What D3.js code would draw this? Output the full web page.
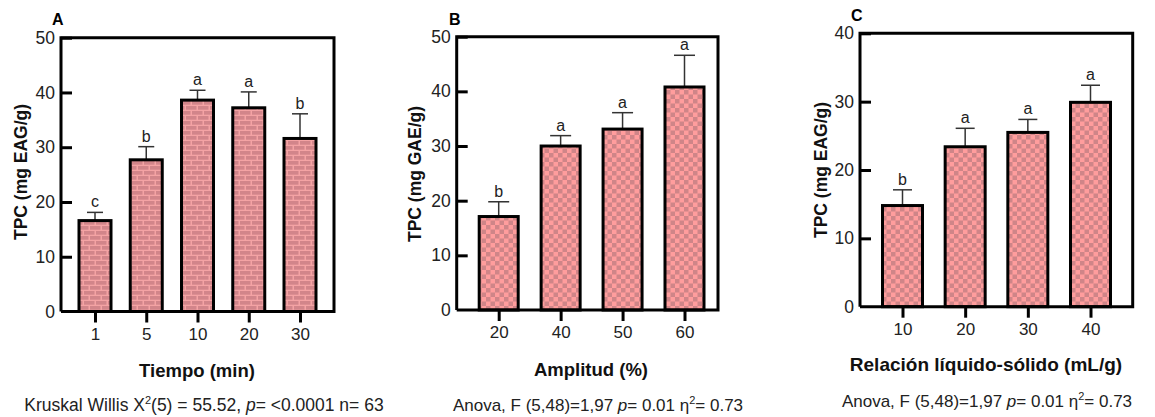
<!DOCTYPE html>
<html><head><meta charset="utf-8">
<script src="https://cdn.jsdelivr.net/npm/d3@7"></script>
<style>body{margin:0;background:#fff}svg{display:block;font-family:"Liberation Sans",Arial,sans-serif}</style>
</head><body><svg id="c" width="1155" height="417"></svg>
<script>
// Panel A
const catsA = ["1","5","10","20","30"];
const meanA = [16.6, 27.7, 38.6, 37.2, 31.6];
const errA  = [18.1, 30.1, 40.4, 40.1, 36.1];
const letA  = ["c","b","a","a","b"];
const ticksA = [0,10,20,30,40,50];
// Panel B
const catsB = ["20","40","50","60"];
const meanB = [17.1, 30.0, 33.1, 40.8];
const errB  = [19.8, 31.9, 36.1, 46.6];
const letB  = ["b","a","a","a"];
const ticksB = [0,10,20,30,40,50];
// Panel C
const catsC = ["10","20","30","40"];
const meanC = [14.8, 23.4, 25.5, 29.9];
const errC  = [17.1, 26.1, 27.4, 32.4];
const letC  = ["b","a","a","a"];
const ticksC = [0,10,20,30,40];

const svg = d3.select("#c");
const defs = svg.append("defs");
// brick pattern
const pb = defs.append("pattern").attr("id","brick").attr("patternUnits","userSpaceOnUse").attr("width",12).attr("height",10);
pb.append("rect").attr("width",12).attr("height",10).attr("fill","#f4a3a4");
pb.append("rect").attr("x",0).attr("y",1).attr("width",10.5).attr("height",3.7).attr("fill","#d2858a");
pb.append("rect").attr("x",6).attr("y",6).attr("width",10.5).attr("height",3.7).attr("fill","#d2858a");
pb.append("rect").attr("x",-6).attr("y",6).attr("width",10.5).attr("height",3.7).attr("fill","#d2858a");
// checker pattern
const pc = defs.append("pattern").attr("id","check").attr("patternUnits","userSpaceOnUse").attr("width",9).attr("height",9);
pc.append("rect").attr("width",9).attr("height",9).attr("fill","#ff9d9d");
pc.append("rect").attr("width",4.5).attr("height",4.5).attr("fill","#cf8588");
pc.append("rect").attr("x",4.5).attr("y",4.5).attr("width",4.5).attr("height",4.5).attr("fill","#cf8588");

function panel(o){
  const g = svg.append("g");
  const y = d3.scaleLinear().domain([0, o.ymax]).range([o.bottom, o.top]);
  const x = d3.scalePoint().domain(o.cats).range([o.x0, o.x1]);
  // bars
  o.cats.forEach((c,i)=>{
    const cx = x(c);
    g.append("line").attr("x1",cx).attr("x2",cx).attr("y1",y(o.mean[i])).attr("y2",y(o.err[i])).attr("stroke","#333").attr("stroke-width",1.5);
    g.append("line").attr("x1",cx-o.cap/2).attr("x2",cx+o.cap/2).attr("y1",y(o.err[i])).attr("y2",y(o.err[i])).attr("stroke","#333").attr("stroke-width",1.5);
    g.append("rect").attr("x",cx-o.bw/2).attr("width",o.bw).attr("y",y(o.mean[i])).attr("height",o.bottom-y(o.mean[i]))
      .attr("fill",`url(#${o.pat})`).attr("stroke","#000").attr("stroke-width",3);
    g.append("text").attr("x",cx).attr("y",y(o.err[i])-5).attr("text-anchor","middle").attr("font-size",16).attr("fill","#222").text(o.let[i]);
  });
  // frame
  g.append("path").attr("d",`M${o.left},${o.bottom}V${o.top}H${o.right}V${o.bottom}H${o.left}`).attr("fill","none").attr("stroke","#000").attr("stroke-width",3);
  // y axis (ticks drawn inward)
  const ya = d3.axisLeft(y).tickValues(o.ticks).tickSize(-11).tickPadding(6);
  const gy = g.append("g").attr("transform",`translate(${o.left},0)`).call(ya);
  gy.select(".domain").remove();
  gy.selectAll(".tick line").attr("stroke","#000").attr("stroke-width",3);
  gy.selectAll(".tick text").attr("font-size",17.5).attr("fill","#222").attr("font-family","Liberation Sans, Arial, sans-serif");
  gy.selectAll(".tick").filter(d=>d===0).select("line").remove();
  // x axis
  const xa = d3.axisBottom(x).tickSize(11).tickPadding(5);
  const gx = g.append("g").attr("transform",`translate(0,${o.bottom})`).call(xa);
  gx.select(".domain").remove();
  gx.selectAll(".tick line").attr("stroke","#000").attr("stroke-width",3);
  gx.selectAll(".tick text").attr("font-size",17).attr("fill","#222").attr("font-family","Liberation Sans, Arial, sans-serif");
  // labels
  g.append("text").attr("x",o.lx).attr("y",o.ly).attr("font-weight","bold").attr("font-size",16).text(o.label);
  g.append("text").attr("transform",`translate(${o.ytx},${o.ytc}) rotate(-90)`).attr("text-anchor","middle")
    .attr("font-weight","bold").attr("font-size",17.5).attr("fill","#111").text(o.ytitle);
  g.append("text").attr("x",o.tcx).attr("y",o.tty).attr("text-anchor","middle").attr("font-weight","bold").attr("font-size",o.tfs).attr("fill","#111").text(o.xtitle);
  const st = g.append("text").attr("x",o.scx).attr("y",o.sty).attr("text-anchor","middle").attr("font-size",o.sfs).attr("fill","#222");
  o.stat(st);
}

function anova(t){
  t.append("tspan").text("Anova, F (5,48)=1,97 ");
  t.append("tspan").attr("font-style","italic").text("p");
  t.append("tspan").text("= 0.01 \u03B7");
  t.append("tspan").attr("dy",-7).attr("font-size",11).text("2");
  t.append("tspan").attr("dy",7).text("= 0.73");
}

panel({cats:catsA, mean:meanA, err:errA, let:letA, ticks:ticksA, ymax:50, pat:"brick",
  left:61, right:334, top:37.7, bottom:311.5, x0:95, x1:300, bw:32, cap:16,
  lx:52, ly:25, label:"A", ytx:27, ytc:172, ytitle:"TPC (mg EAG/g)", tcx:197, tty:377, tfs:18.5, xtitle:"Tiempo (min)",
  scx:204, sty:411, sfs:17.5, stat:t=>{
    t.append("tspan").text("Kruskal Willis X");
    t.append("tspan").attr("dy",-7).attr("font-size",11).text("2");
    t.append("tspan").attr("dy",7).text("(5) = 55.52, ");
    t.append("tspan").attr("font-style","italic").text("p");
    t.append("tspan").text("= <0.0001 n= 63");
  }});

panel({cats:catsB, mean:meanB, err:errB, let:letB, ticks:ticksB, ymax:50, pat:"check",
  left:456.7, right:718, top:36.7, bottom:310, x0:498.7, x1:684.5, bw:39, cap:21,
  lx:449, ly:25, label:"B", ytx:421, ytc:174, ytitle:"TPC (mg GAE/g)", tcx:591, tty:376, tfs:18.5, xtitle:"Amplitud (%)",
  scx:598, sty:411, sfs:17, stat:anova});

panel({cats:catsC, mean:meanC, err:errC, let:letC, ticks:ticksC, ymax:40, pat:"check",
  left:860, right:1132.7, top:33.3, bottom:306.7, x0:902.5, x1:1090.5, bw:40, cap:19,
  lx:851, ly:21, label:"C", ytx:827, ytc:170, ytitle:"TPC (mg EAG/g)", tcx:986, tty:371, tfs:19, xtitle:"Relación líquido-sólido (mL/g)",
  scx:987, sty:407, sfs:17, stat:anova});
</script></body></html>
